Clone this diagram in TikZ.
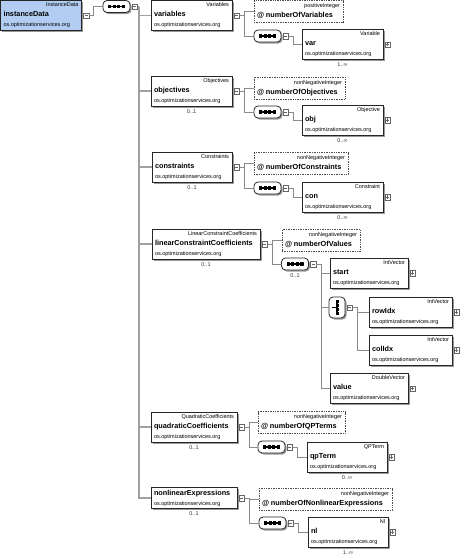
\documentclass[tikz,border=0pt]{standalone}
\usepackage{fontspec}
\setmainfont{Liberation Sans}
\usepackage{xcolor}
\usetikzlibrary{positioning,shadows}

\definecolor{rootblue}{HTML}{B2CCF2}
\definecolor{linkgray}{HTML}{8A8A8A}

\newcommand{\smallfont}{\fontsize{5.5}{10}\selectfont}
\newcommand{\namefont}{\fontsize{7.3}{10}\selectfont\bfseries}
\newcommand{\elemtext}[2]{\makebox[\hsize][r]{#1}\\{\namefont #2}\\os.optimizationservices.org}
\newcommand{\attrtext}[2]{\makebox[\hsize][r]{#1}\\{\namefont @ #2}}

\begin{document}
\begin{tikzpicture}[
    x=1pt, y=-1pt,
    every node/.style={inner sep=0pt, outer sep=0pt},
    label distance=3.5pt,
    boxshadow/.style={general shadow={fill=black!40, shadow xshift=1.5pt, shadow yshift=-1.5pt}},
    elem/.style={draw=black!85, fill=white, line width=0.8pt, boxshadow, align=left,
        inner xsep=3pt, text width=#1, minimum height=30pt, font=\smallfont},
    attr/.style={draw=black!70, densely dotted, fill=white, line width=0.7pt, align=left,
        inner xsep=3pt, text width=#1, minimum height=22pt, font=\smallfont},
    seqbox/.style={draw=black!85, fill=white, line width=0.8pt, rounded corners=4pt, boxshadow,
        minimum width=27pt, minimum height=12pt,
        path picture={
            \fill[sharp corners, black] ([xshift=-8.5pt, yshift=-0.6pt]path picture bounding box.center)
                rectangle ([xshift=8.5pt, yshift=0.6pt]path picture bounding box.center);
            \foreach \dx in {-6.9,-2.3,2.3,6.9}
                \fill[sharp corners, black] ([xshift=\dx pt]path picture bounding box.center)
                    +(-1.6pt,-1.6pt) rectangle +(1.6pt,1.6pt);
        }},
    choicebox/.style={draw=black!85, fill=white, line width=0.8pt, rounded corners=4pt, boxshadow,
        minimum width=16pt, minimum height=21pt,
        path picture={
            \fill[sharp corners, black] ([xshift=-5pt, yshift=-0.5pt]path picture bounding box.center)
                rectangle ([yshift=0.5pt]path picture bounding box.center);
            \fill[sharp corners, black] ([xshift=-0.6pt, yshift=-7.5pt]path picture bounding box.center)
                rectangle ([xshift=0.6pt, yshift=7.5pt]path picture bounding box.center);
            \foreach \dy in {-6,-2,2,6}
                \fill[sharp corners, black] ([yshift=\dy pt]path picture bounding box.center)
                    +(-1.5pt,-1.5pt) rectangle +(1.5pt,1.5pt);
        }},
    minusbox/.style={draw=black!60, fill=white, line width=0.5pt, minimum size=5.5pt,
        path picture={
            \draw[line width=0.6pt] ([xshift=-1.7pt]path picture bounding box.center)
                -- ([xshift=1.7pt]path picture bounding box.center);
        }},
    plusbox/.style={draw=black!60, fill=white, line width=0.5pt, minimum size=5.5pt,
        path picture={
            \draw[line width=0.6pt] ([xshift=-1.7pt]path picture bounding box.center)
                -- ([xshift=1.7pt]path picture bounding box.center);
            \draw[line width=0.6pt] ([yshift=-1.7pt]path picture bounding box.center)
                -- ([yshift=1.7pt]path picture bounding box.center);
        }},
    card/.style={font=\smallfont, text=black!80},
    link/.style={draw=linkgray, line width=0.8pt},
    spinelink/.style={draw=linkgray!80, line width=1.2pt}
]
\useasboundingbox (0,0) rectangle (474,560);

\node[elem=75, fill=rootblue] (root) at (41,15.5) {\elemtext{InstanceData}{instanceData}};
\node[minusbox, right=2pt of root] (rootc) {};
\node[seqbox] (rseq) at (116.5,6.5) {};
\node[minusbox, right=2pt of rseq] (rseqc) {};
\coordinate (spine) at (139,6.5);

\node[elem=75] (variables) at (191.5,15.5) {\elemtext{Variables}{variables}};
\node[elem=75, label={[card]below:0..1}] (objectives) at (191.5,91) {\elemtext{Objectives}{objectives}};
\node[elem=74, label={[card]below:0..1}] (constraints) at (192,167) {\elemtext{Constraints}{constraints}};
\node[elem=102, label={[card]below:0..1}] (linear) at (206,244)
    {\elemtext{LinearConstraintCoefficients}{linearConstraintCoefficients}};
\node[elem=80, label={[card]below:0..1}] (quadratic) at (194,427) {\elemtext{QuadraticCoefficients}{quadraticCoefficients}};
\node[elem=80, minimum height=21pt, label={[card]below:0..1}] (nonlinear) at (194,498)
    {{\namefont nonlinearExpressions}\\os.optimizationservices.org};
\foreach \n in {variables,objectives,constraints,linear,quadratic,nonlinear}
    \node[minusbox, right=2pt of \n] (\n c) {};

\node[attr=83] (vattr) at (298.5,11.5) {\attrtext{positiveInteger}{numberOfVariables}};
\node[seqbox] (vseq) at (267.5,36) {};
\node[minusbox, right=2pt of vseq] (vseqc) {};
\node[elem=75, label={[card]below:1..∞}] (var) at (342.5,44.5) {\elemtext{Variable}{var}};
\node[plusbox, right=2pt of var] (varp) {};

\node[attr=85] (oattr) at (299.5,88) {\attrtext{nonNegativeInteger}{numberOfObjectives}};
\node[seqbox] (oseq) at (267.5,112) {};
\node[minusbox, right=2pt of oseq] (oseqc) {};
\node[elem=75, label={[card]below:0..∞}] (obj) at (342.5,120) {\elemtext{Objective}{obj}};
\node[plusbox, right=2pt of obj] (objp) {};

\node[attr=88] (cattr) at (301,163.5) {\attrtext{nonNegativeInteger}{numberOfConstraints}};
\node[seqbox] (cseq) at (267.5,188) {};
\node[minusbox, right=2pt of cseq] (cseqc) {};
\node[elem=75, label={[card]below:0..∞}] (con) at (342.5,197) {\elemtext{Constraint}{con}};
\node[plusbox, right=2pt of con] (conp) {};

\node[attr=72] (lattr) at (321,240.5) {\attrtext{nonNegativeInteger}{numberOfValues}};
\node[seqbox, label={[card]below:0..1}] (lseq) at (295,264) {};
\node[minusbox, right=2pt of lseq] (lseqc) {};
\node[elem=72] (start) at (369,273) {\elemtext{IntVector}{start}};
\node[choicebox] (lchoice) at (337,307.5) {};
\node[minusbox, right=2pt of lchoice] (lchoicec) {};
\node[elem=77] (rowidx) at (410.5,312) {\elemtext{IntVector}{rowIdx}};
\node[elem=77] (colidx) at (410.5,350) {\elemtext{IntVector}{colIdx}};
\node[elem=72] (value) at (369,388.5) {\elemtext{DoubleVector}{value}};
\foreach \n in {start,rowidx,colidx,value}
    \node[plusbox, right=2pt of \n] (\n p) {};

\node[attr=81] (qattr) at (301.5,422.5) {\attrtext{nonNegativeInteger}{numberOfQPTerms}};
\node[seqbox] (qseq) at (271.5,447) {};
\node[minusbox, right=2pt of qseq] (qseqc) {};
\node[elem=74, label={[card]below:0..∞}] (qpterm) at (347,457) {\elemtext{QPTerm}{qpTerm}};
\node[plusbox, right=2pt of qpterm] (qptermp) {};

\node[attr=127] (nattr) at (325.5,499.5) {\attrtext{nonNegativeInteger}{numberOfNonlinearExpressions}};
\node[seqbox] (nseq) at (272.5,523) {};
\node[minusbox, right=2pt of nseq] (nseqc) {};
\node[elem=74, label={[card]below:1..∞}] (nl) at (348,532) {\elemtext{Nl}{nl}};
\node[plusbox, right=2pt of nl] (nlp) {};

\draw[link] (rootc.east) -- ++(4,0) |- (rseq);
\draw[link] (rseqc) -- (spine);
\foreach \n in {variables,objectives,constraints,linear,quadratic,nonlinear}
    \draw[spinelink] (spine) |- (\n);

\draw[link] (variablesc.east) -- ++(5,0) |- (vattr);
\draw[link] (variablesc.east) -- ++(5,0) |- (vseq);
\draw[link] (vseqc.east) -- ++(5,0) |- (var);
\draw[link] (objectivesc.east) -- ++(5,0) |- (oattr);
\draw[link] (objectivesc.east) -- ++(5,0) |- (oseq);
\draw[link] (oseqc.east) -- ++(5,0) |- (obj);
\draw[link] (constraintsc.east) -- ++(5,0) |- (cattr);
\draw[link] (constraintsc.east) -- ++(5,0) |- (cseq);
\draw[link] (cseqc.east) -- ++(5,0) |- (con);
\draw[link] (linearc.east) -- ++(5,0) |- (lattr);
\draw[link] (linearc.east) -- ++(5,0) |- (lseq);
\foreach \n in {start,lchoice,value}
    \draw[link] (lseqc.east) -- ++(5,0) |- (\n);
\foreach \n in {rowidx,colidx}
    \draw[link] (lchoicec.east) -- ++(5,0) |- (\n);
\draw[link] (quadraticc.east) -- ++(5,0) |- (qattr);
\draw[link] (quadraticc.east) -- ++(5,0) |- (qseq);
\draw[link] (qseqc.east) -- ++(5,0) |- (qpterm);
\draw[link] (nonlinearc.east) -- ++(5,0) |- (nattr);
\draw[link] (nonlinearc.east) -- ++(5,0) |- (nseq);
\draw[link] (nseqc.east) -- ++(5,0) |- (nl);
\end{tikzpicture}
\end{document}
